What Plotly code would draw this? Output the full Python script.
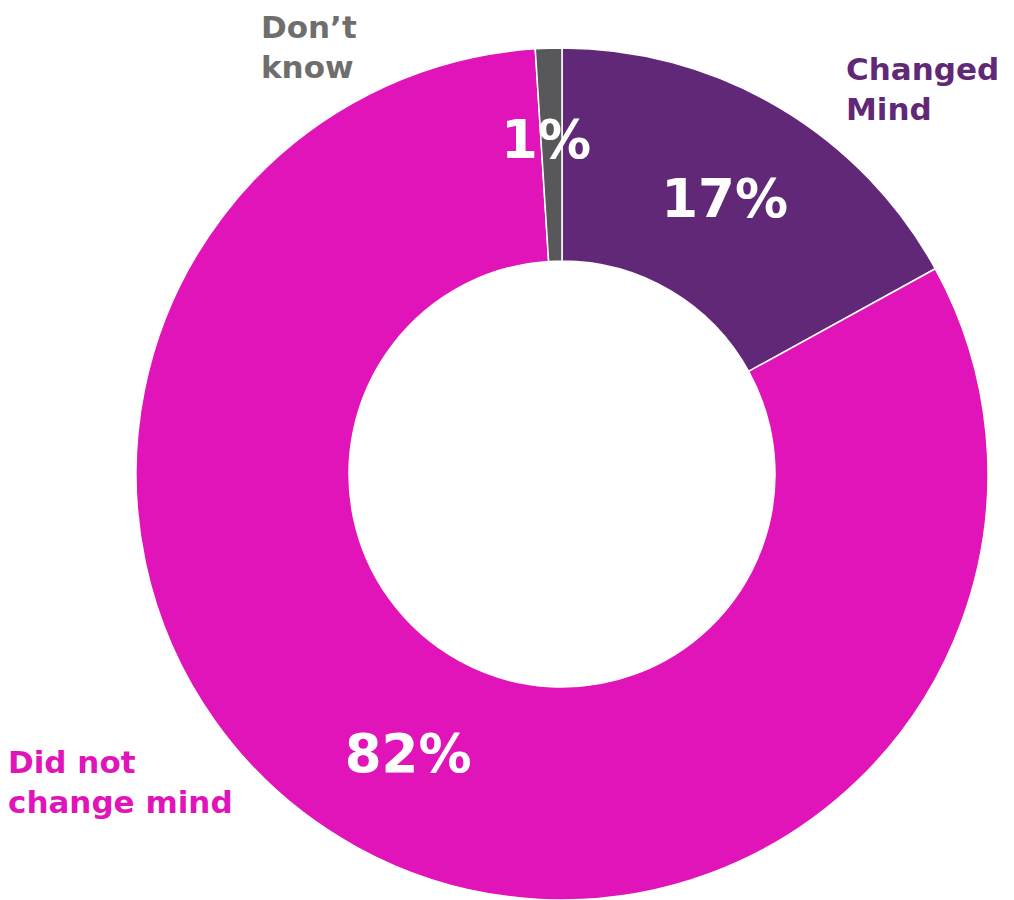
import math
import plotly.graph_objects as go

labels = ["Changed Mind", "Did not change mind", "Don’t know"]
values = [17, 82, 1]
slice_colors = ["#612878", "#E014B9", "#58585A"]
label_colors = ["#612878", "#E014B9", "#6E6E6E"]
label_text = ["Changed<br>Mind", "Did not<br>change mind", "Don’t<br>know"]

FONT = "DejaVu Sans"
PCT_SIZE = 53
W, H = 1014, 900
dom_x = [136 / W, 988 / W]
dom_y = [0, 852 / H]

# the tiny slice gets its percentage as a separate annotation (placed from data)
text_pos = ["inside", "inside", "none"]

fig = go.Figure(go.Pie(
    labels=labels,
    values=values,
    hole=0.5,
    sort=False,
    direction="clockwise",
    rotation=0,
    marker=dict(colors=slice_colors, line=dict(color="white", width=1.5)),
    texttemplate="<b>%{value}%</b>",
    textposition=text_pos,
    insidetextorientation="horizontal",
    textfont=dict(family=FONT, size=PCT_SIZE, color="white"),
    domain=dict(x=dom_x, y=dom_y),
    showlegend=False,
    hoverinfo="label+percent",
))

# percentage label for the tiny slice, positioned at its mid-angle
total = sum(values)
cx = (dom_x[0] + dom_x[1]) / 2 * W
cy = H - (dom_y[0] + dom_y[1]) / 2 * H
R = (dom_y[1] - dom_y[0]) * H / 2
start = sum(values[:2]) / total
mid_angle = 2 * math.pi * (start + values[2] / total / 2)
rr = 0.785 * R
px = cx + rr * math.sin(mid_angle) - 5
py = cy - rr * math.cos(mid_angle)
fig.add_annotation(
    text=f"<b>{values[2]}%</b>", xref="paper", yref="paper",
    x=px / W, y=1 - py / H, xanchor="center", yanchor="middle",
    showarrow=False, font=dict(family=FONT, size=PCT_SIZE, color="white"),
)

# outside category labels
ann_pos = [(844, 89), (6, 782), (259, 47)]
for txt, col, (ax, ay) in zip(label_text, label_colors, ann_pos):
    fig.add_annotation(
        text=f"<b>{txt}</b>", xref="paper", yref="paper",
        x=ax / W, y=1 - ay / H, xanchor="left", yanchor="middle",
        align="left", showarrow=False,
        font=dict(family=FONT, size=31, color=col),
    )

fig.update_layout(
    width=W, height=H,
    margin=dict(l=0, r=0, t=0, b=0),
    paper_bgcolor="white", plot_bgcolor="white",
    uniformtext=dict(minsize=PCT_SIZE, mode="show"),
)

fig.write_html(
    "out.html",
    config={"displayModeBar": False},
    post_script="document.body.style.margin='0';",
)
